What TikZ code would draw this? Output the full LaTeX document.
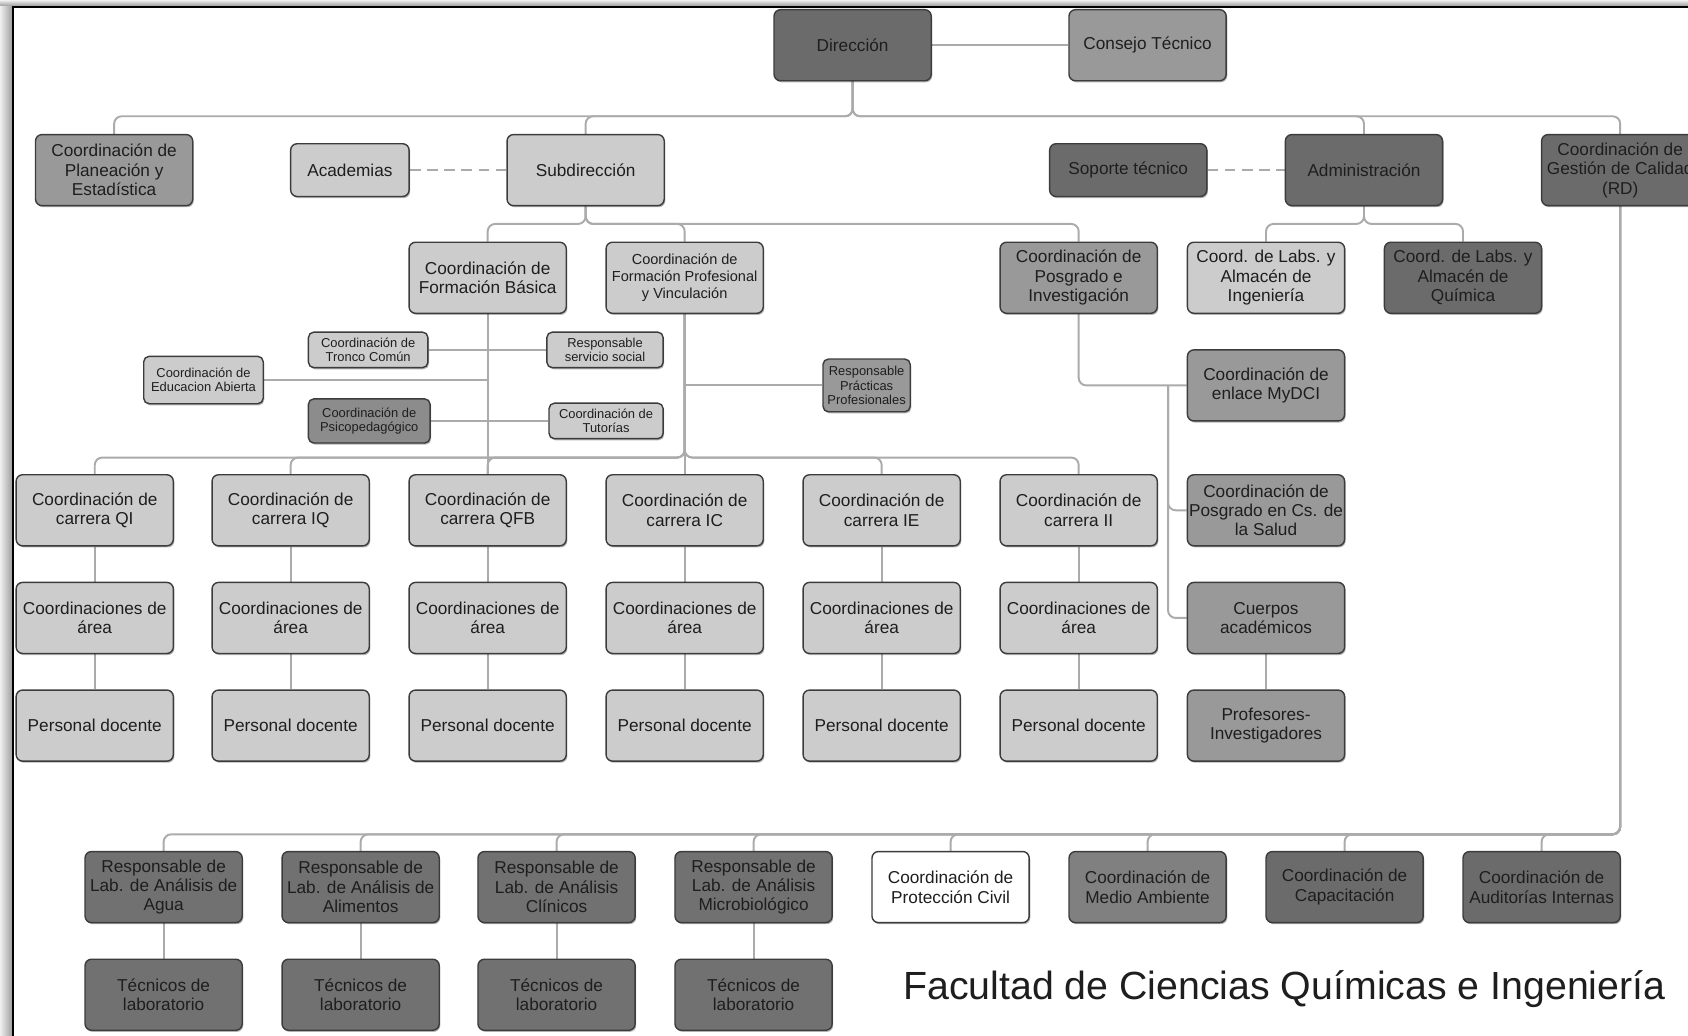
\documentclass[tikz,border=0pt]{standalone}
\usepackage{fontspec}
\setmainfont{Liberation Sans}
\usetikzlibrary{shadows,backgrounds}
\definecolor{lightbox}{HTML}{CCCCCC}
\definecolor{midbox}{HTML}{999999}
\definecolor{psibox}{HTML}{8C8C8C}
\definecolor{mabox}{HTML}{808080}
\definecolor{darkbox}{HTML}{6B6B6B}
\definecolor{labbox}{HTML}{717171}
\definecolor{boxborder}{HTML}{3C3C3C}
\definecolor{textcol}{HTML}{1E1E1E}
\definecolor{linecol}{HTML}{ABABAB}
\tikzset{
  box/.style={draw=boxborder, line width=1.3pt, rounded corners=6pt,
    minimum width=146pt, minimum height=66pt, align=center, inner sep=1pt,
    font=\fontsize{16}{18}\selectfont, text=textcol,
    drop shadow={shadow xshift=1pt, shadow yshift=-1.5pt, opacity=0.3, fill=black}},
  small/.style={font=\fontsize{12}{13.5}\selectfont, rounded corners=5pt},
  lightn/.style={box, fill=lightbox},
  midn/.style={box, fill=midbox},
  darkn/.style={box, fill=darkbox},
  labn/.style={box, fill=labbox},
  link/.style={draw=linecol, line width=1.8pt, rounded corners=7pt},
  dashlink/.style={draw=linecol, line width=2pt, dash pattern=on 10pt off 6pt},
}
\begin{document}
\begin{tikzpicture}[x=1pt, y=-1pt]
\useasboundingbox (0,0) rectangle (1568,962);
\clip (0,0) rectangle (1568,962);

% bus coordinates
\coordinate (busA) at (0,108);
\coordinate (busB) at (0,208);
\coordinate (busC) at (0,425);
\coordinate (busD) at (0,775);
\coordinate (pgbus) at (1085,358);

% top rows
\node[darkn] (dir) at (792,42) {Dirección};
\node[midn] (cons) at (1066,42) {Consejo Técnico};
\node[midn] (plan) at (106,158) {Coordinación de\\Planeación y\\Estadística};
\node[lightn, minimum width=110pt, minimum height=49pt] (acad) at (325,158) {Academias};
\node[lightn] (sub) at (544,158) {Subdirección};
\node[darkn, minimum height=49pt] (sop) at (1048,158) {Soporte técnico};
\node[darkn] (adm) at (1267,158) {Administración};
\node[darkn] (cal) at (1505,158) {Coordinación de\\Gestión de Calidad\\(RD)};

\node[lightn] (fb) at (453,258) {Coordinación de\\Formación Básica};
\node[lightn, font=\fontsize{13.5}{16}\selectfont] (fp) at (636,258) {Coordinación de\\Formación Profesional\\y Vinculación};
\node[midn] (pi) at (1002,258) {Coordinación de\\Posgrado e\\Investigación};
\node[lightn] (lin) at (1176,258) {Coord. de Labs. y\\Almacén de\\Ingeniería};
\node[darkn] (lqu) at (1359,258) {Coord. de Labs. y\\Almacén de\\Química};

% small nodes
\node[lightn, small, minimum width=111pt, minimum height=33pt] (tc) at (342,325) {Coordinación de\\Tronco Común};
\node[lightn, small, minimum width=108pt, minimum height=33pt] (ss) at (562,325) {Responsable\\servicio social};
\node[lightn, small, minimum width=111pt, minimum height=44pt] (ea) at (189,353) {Coordinación de\\Educacion Abierta};
\node[midn, small, minimum width=81pt, minimum height=49pt] (pp) at (805,358) {Responsable\\Prácticas\\Profesionales};
\node[box, fill=psibox, small, minimum width=113pt, minimum height=41pt] (psi) at (343,391) {Coordinación de\\Psicopedagógico};
\node[lightn, small, minimum width=106pt, minimum height=33pt] (tut) at (563,391) {Coordinación de\\Tutorías};

\node[midn] (myd) at (1176,358) {Coordinación de\\enlace MyDCI};

% careers
\node[lightn] (cqi) at (88,474) {Coordinación de\\carrera QI};
\node[lightn] (ciq) at (270,474) {Coordinación de\\carrera IQ};
\node[lightn] (cqfb) at (453,474) {Coordinación de\\carrera QFB};
\node[lightn] (cic) at (636,474) {Coordinación de\\carrera IC};
\node[lightn] (cie) at (819,474) {Coordinación de\\carrera IE};
\node[lightn] (cii) at (1002,474) {Coordinación de\\carrera II};
\node[midn] (sal) at (1176,474) {Coordinación de\\Posgrado en Cs. de\\la Salud};

\node[lightn] (aqi) at (88,574) {Coordinaciones de\\área};
\node[lightn] (aiq) at (270,574) {Coordinaciones de\\área};
\node[lightn] (aqfb) at (453,574) {Coordinaciones de\\área};
\node[lightn] (aic) at (636,574) {Coordinaciones de\\área};
\node[lightn] (aie) at (819,574) {Coordinaciones de\\área};
\node[lightn] (aii) at (1002,574) {Coordinaciones de\\área};
\node[midn] (cue) at (1176,574) {Cuerpos\\académicos};

\node[lightn] (dqi) at (88,674) {Personal docente};
\node[lightn] (diq) at (270,674) {Personal docente};
\node[lightn] (dqfb) at (453,674) {Personal docente};
\node[lightn] (dic) at (636,674) {Personal docente};
\node[lightn] (die) at (819,674) {Personal docente};
\node[lightn] (dii) at (1002,674) {Personal docente};
\node[midn] (prof) at (1176,674) {Profesores-\\Investigadores};

% bottom
\node[labn] (agua) at (152,824) {Responsable de\\Lab. de Análisis de\\Agua};
\node[labn] (alim) at (335,824) {Responsable de\\Lab. de Análisis de\\Alimentos};
\node[labn] (clin) at (517,824) {Responsable de\\Lab. de Análisis\\Clínicos};
\node[labn] (micro) at (700,824) {Responsable de\\Lab. de Análisis\\Microbiológico};
\node[box, fill=white] (pc) at (883,824) {Coordinación de\\Protección Civil};
\node[box, fill=mabox] (ma) at (1066,824) {Coordinación de\\Medio Ambiente};
\node[darkn] (cap) at (1249,824) {Coordinación de\\Capacitación};
\node[darkn] (aud) at (1432,824) {Coordinación de\\Auditorías Internas};

\node[labn] (tagua) at (152,924) {Técnicos de\\laboratorio};
\node[labn] (talim) at (335,924) {Técnicos de\\laboratorio};
\node[labn] (tclin) at (517,924) {Técnicos de\\laboratorio};
\node[labn] (tmicro) at (700,924) {Técnicos de\\laboratorio};

\node[text=textcol, font=\fontsize{36.5}{42}\selectfont, inner sep=0pt] (title) at (1193,919) {Facultad de Ciencias Químicas e Ingeniería};

\begin{scope}[on background layer]
\fill[white] (0,0) rectangle (1568,962);
% frame shadow and border
\shade[left color=white!94!black, right color=white!62!black] (0,0) rectangle (11.5,962);
\shade[top color=white!94!black, bottom color=white!62!black] (0,0) rectangle (1568,5.5);
\draw[black, line width=1.6pt] (12,962) -- (12,6.2) -- (1568,6.2);

\draw[link] (dir) -- (cons);
\foreach \c in {plan,sub,adm,cal}
  \draw[link] (dir.south) -- (dir.south |- busA) -| (\c.north);
\draw[dashlink] (acad) -- (sub);
\draw[dashlink] (sop) -- (adm);
\foreach \c in {fb,fp,pi}
  \draw[link] (sub.south) -- (sub.south |- busB) -| (\c.north);
\foreach \c in {lin,lqu}
  \draw[link] (adm.south) -- (adm.south |- busB) -| (\c.north);
\draw[link] (fb.south) -- (cqfb.north);
\draw[link] (tc) -- (ss);
\draw[link] (ea.east) -- (ea.east -| fb.south);
\draw[link] (psi) -- (tut);
\draw[link] (fp.south |- pp.west) -- (pp.west);
\foreach \c in {cqi,ciq,cqfb,cic,cie,cii}
  \draw[link] (fp.south) -- (fp.south |- busC) -| (\c.north);
\foreach \a/\b/\d in {cqi/aqi/dqi,ciq/aiq/diq,cqfb/aqfb/dqfb,cic/aic/dic,cie/aie/die,cii/aii/dii}
  \draw[link] (\a) -- (\b) -- (\d);
\draw[link] (pi.south) |- (myd.west);
\draw[link] (pgbus) |- (sal.west);
\draw[link] (pgbus) |- (cue.west);
\draw[link] (cue) -- (prof);
\foreach \c in {agua,alim,clin,micro,pc,ma,cap,aud}
  \draw[link] (cal.south) -- (cal.south |- busD) -| (\c.north);
\foreach \a/\b in {agua/tagua,alim/talim,clin/tclin,micro/tmicro}
  \draw[link] (\a) -- (\b);
\end{scope}
\end{tikzpicture}
\end{document}
